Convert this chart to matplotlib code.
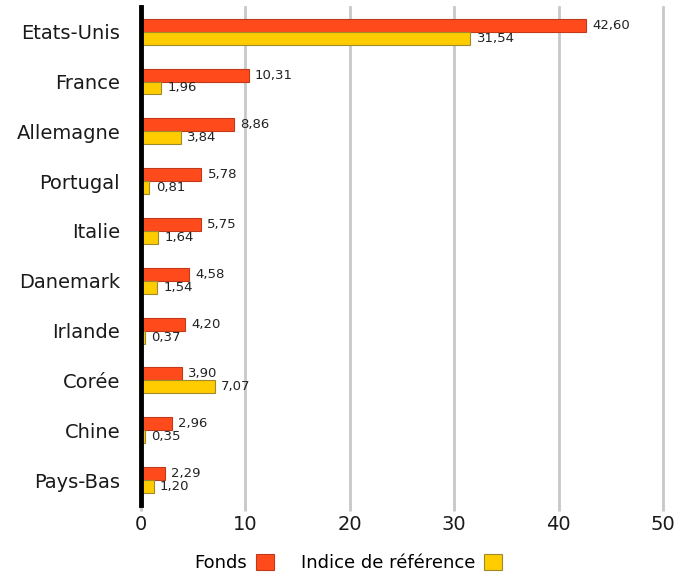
import numpy as np
import matplotlib
matplotlib.use("Agg")
import matplotlib.pyplot as plt

pays = ["Etats-Unis", "France", "Allemagne", "Portugal", "Italie",
        "Danemark", "Irlande", "Corée", "Chine", "Pays-Bas"]
fonds = [42.60, 10.31, 8.86, 5.78, 5.75, 4.58, 4.20, 3.90, 2.96, 2.29]
indice = [31.54, 1.96, 3.84, 0.81, 1.64, 1.54, 0.37, 7.07, 0.35, 1.20]

plt.rcParams['font.family'] = ['DejaVu Sans']

fig = plt.figure(figsize=(6.96, 5.8), dpi=100)
ax = fig.add_axes([0.2026, 0.1293, 0.75, 0.859])

y = np.arange(len(pays))
h = 0.26
b1 = ax.barh(y - h / 2, fonds, height=h, color="#FF4B1B", edgecolor="#C0391B",
             linewidth=0.8, label="Fonds", zorder=3)
b2 = ax.barh(y + h / 2, indice, height=h, color="#FFCC00", edgecolor="#9E8A2A",
             linewidth=0.8, label="Indice de référence", zorder=3)

for bars, vals in ((b1, fonds), (b2, indice)):
    for rect, v in zip(bars, vals):
        ax.text(v + 0.6, rect.get_y() + rect.get_height() / 2,
                f"{v:.2f}".replace(".", ","), va="center", ha="left",
                fontsize=9.5, color="#222222")

ax.set_xlim(0, 50)
ax.set_ylim(len(pays) - 0.5, -0.5)
ax.set_xticks([0, 10, 20, 30, 40, 50])
ax.set_yticks(y)
ax.set_yticklabels(pays, fontsize=14, color="#1a1a1a")
ax.tick_params(axis="x", labelsize=14, colors="#1a1a1a", length=4, color="#c8c8c8", width=2)
ax.tick_params(axis="y", length=0, pad=15)
ax.grid(axis="x", color="#c8c8c8", linewidth=2, zorder=0)
for gl in ax.get_xgridlines():
    gl.set_clip_on(False)
for s in ("top", "right", "bottom"):
    ax.spines[s].set_visible(False)
ax.spines["left"].set_linewidth(3.5)
ax.spines["left"].set_color("black")
ax.spines["left"].set_zorder(4)

fig.legend(handles=[b1, b2], loc="lower center", bbox_to_anchor=(0.5, -0.015),
           ncol=2, frameon=False, markerfirst=False, fontsize=13,
           handlelength=1.0, handleheight=1.0, columnspacing=1.5,
           handletextpad=0.5)

fig.savefig("out.png", dpi=100)
